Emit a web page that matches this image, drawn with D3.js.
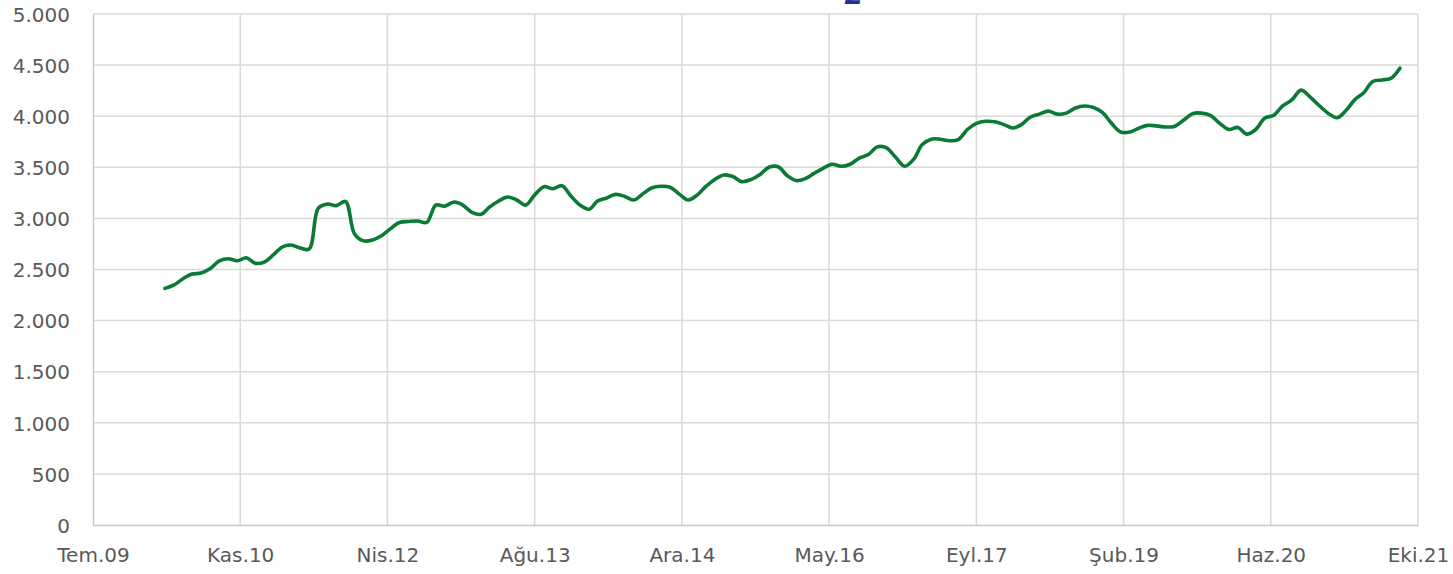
<!DOCTYPE html>
<html>
<head>
<meta charset="utf-8">
<script src="https://cdn.jsdelivr.net/npm/d3@7"></script>
<style>
  html, body { margin: 0; padding: 0; background: #fff; }
  svg { display: block; }
  .tick text { font-family: "DejaVu Sans", Verdana, sans-serif; font-size: 20px; fill: #595959; }
</style>
</head>
<body>
<svg id="chart" width="1453" height="574"></svg>
<script>
// Monthly series, March 2010 through August 2021
const seriesStart = [2010, 2]; // year, zero-based month
const seriesValues = [
  2315, 2350, 2410, 2455, 2465, 2510, 2585, 2605, 2585, 2615,
  2560, 2575, 2640, 2720, 2740, 2710, 2700, 3100, 3140, 3125,
  3165, 2850, 2780, 2790, 2830, 2900, 2960, 2970, 2975, 2960,
  3130, 3120, 3160, 3130, 3060, 3040, 3110, 3170, 3210, 3180,
  3130, 3230, 3310, 3290, 3320, 3220, 3130, 3090, 3170, 3200,
  3235, 3215, 3180, 3240, 3300, 3315, 3305, 3240, 3180, 3230,
  3310, 3380, 3425, 3410, 3360, 3380, 3430, 3500, 3505, 3420,
  3370, 3390, 3440, 3490, 3530, 3510, 3530, 3590, 3625, 3700,
  3690, 3600, 3510, 3580, 3720, 3775, 3775, 3760, 3770, 3870,
  3930, 3950, 3945, 3920, 3885, 3920, 3990, 4020, 4050, 4020,
  4030, 4080, 4100, 4085, 4035, 3930, 3845, 3845, 3880, 3910,
  3905, 3895, 3900, 3960, 4025, 4030, 4005, 3930, 3870, 3890,
  3825, 3870, 3980, 4010, 4100, 4160, 4255, 4190, 4105, 4030,
  3985, 4060, 4160, 4230, 4340, 4355, 4370, 4470
];

// Axis labels
const xTickLabels = ["Tem.09", "Kas.10", "Nis.12", "Ağu.13", "Ara.14", "May.16", "Eyl.17", "Şub.19", "Haz.20", "Eki.21"];
const xDomain = [new Date(2009, 6, 1), new Date(2021, 9, 1)];
const yTickValues = [0, 500, 1000, 1500, 2000, 2500, 3000, 3500, 4000, 4500, 5000];

const W = 1453, H = 574;
const margin = { top: 14, right: 35, bottom: 49, left: 93 };

const svg = d3.select("#chart");

const data = seriesValues.map((v, i) => ({
  date: d3.timeMonth.offset(new Date(seriesStart[0], seriesStart[1], 1), i),
  value: v
}));

const x = d3.scaleTime().domain(xDomain).range([margin.left, W - margin.right]);
const y = d3.scaleLinear().domain([0, 5000]).range([H - margin.bottom, margin.top]);

// Category ticks are evenly spaced across the date range
const xTickDates = xTickLabels.map((_, i) =>
  new Date(+xDomain[0] + i * (xDomain[1] - xDomain[0]) / (xTickLabels.length - 1)));

const trLocale = d3.formatLocale({ decimal: ",", thousands: ".", grouping: [3], currency: ["", ""] });
const fmt = trLocale.format(",");

// Horizontal gridlines
svg.append("g")
  .selectAll("line")
  .data(yTickValues.slice(1))
  .join("line")
  .attr("x1", margin.left).attr("x2", W - margin.right)
  .attr("y1", d => y(d)).attr("y2", d => y(d))
  .attr("stroke", "#d9d9d9").attr("stroke-width", 1.5);

// Vertical gridlines
svg.append("g")
  .selectAll("line")
  .data(xTickDates.slice(1))
  .join("line")
  .attr("x1", d => x(d)).attr("x2", d => x(d))
  .attr("y1", margin.top).attr("y2", H - margin.bottom)
  .attr("stroke", "#d9d9d9").attr("stroke-width", 1.5);

// Y axis
const yAxis = svg.append("g")
  .attr("transform", `translate(${margin.left},0)`)
  .call(d3.axisLeft(y).tickValues(yTickValues).tickFormat(fmt).tickSize(0).tickPadding(23));
yAxis.select(".domain").attr("stroke", "#c8c8c8").attr("stroke-width", 1.5);
yAxis.selectAll(".tick text").attr("dy", "0.36em");

// X axis
const xAxis = svg.append("g")
  .attr("transform", `translate(0,${H - margin.bottom})`)
  .call(d3.axisBottom(x).tickValues(xTickDates).tickFormat((d, i) => xTickLabels[i]).tickSize(0).tickPadding(23));
xAxis.select(".domain").attr("stroke", "#c8c8c8").attr("stroke-width", 1.5);

// Series line
const line = d3.line()
  .x(d => x(d.date))
  .y(d => y(d.value))
  .curve(d3.curveCatmullRom.alpha(0.5));

svg.append("path")
  .datum(data)
  .attr("d", line)
  .attr("fill", "none")
  .attr("stroke", "#0a7a36")
  .attr("stroke-width", 3.6)
  .attr("stroke-linecap", "round")
  .attr("stroke-linejoin", "round");

// Chart title, mostly above the visible area
svg.append("text")
  .attr("x", 845).attr("y", 4)
  .attr("font-family", "DejaVu Sans, sans-serif")
  .attr("font-size", 30)
  .attr("font-weight", "bold")
  .attr("font-style", "italic")
  .attr("fill", "#20358f")
  .text("z");
</script>
</body>
</html>
